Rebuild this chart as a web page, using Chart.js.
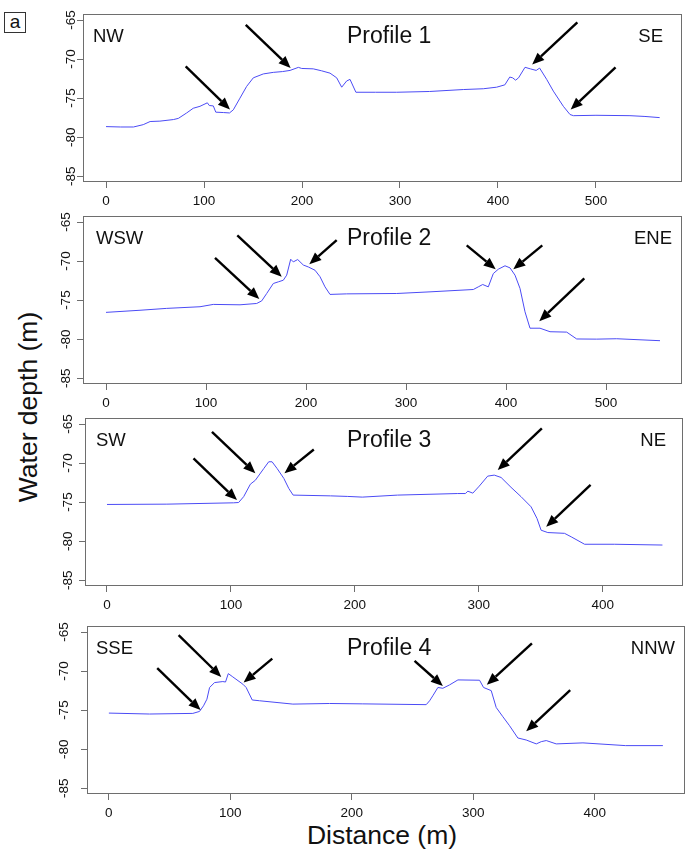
<!DOCTYPE html>
<html lang="en">
<head>
<meta charset="UTF-8">
<title>Bathymetric profiles</title>
<script src="https://cdn.jsdelivr.net/npm/chart.js@4.4.1/dist/chart.umd.min.js"></script>
<style>
body { margin: 0; background: #fff; font-family: "Liberation Sans", Arial, sans-serif; }
#page { position: relative; width: 686px; height: 851px; overflow: hidden; }
#page canvas { position: absolute; left: 0; }
.tag { position: absolute; left: 4px; top: 12px; width: 20px; height: 19px; border: 1px solid #333;
       font-size: 19px; line-height: 17px; text-align: center; color: #111; }
#ylab { position: absolute; left: 27.5px; top: 406.7px; font-size: 26.5px; line-height: 26.5px;
        white-space: nowrap; color: #111; transform: translate(-50%, -50%) rotate(-90deg); }
#xlab { position: absolute; left: 382px; top: 822px; font-size: 26.5px; line-height: 26.5px;
        white-space: nowrap; color: #111; transform: translateX(-50%); }
</style>
</head>
<body>
<div id="page">
  <div class="tag">a</div>
  <div id="ylab">Water depth (m)</div>
  <div id="xlab">Distance (m)</div>
</div>
<script>
// distance along profile (m) and water depth (m)
var dist1 = [0, 15, 28, 38, 45, 55, 68.7, 73.8, 82.3, 89, 95.9, 103.4, 105.4, 109.5, 112, 120, 126, 129.9, 136.7, 143.5,
             150.3, 160.5, 170.7, 180, 187.8, 196.3, 199.7, 211.5, 220, 228.6, 235.4, 240.5, 245.6, 249, 255, 275, 296.6,
             330, 364.6, 385, 398.6, 407, 412, 415, 418, 421, 427.6, 433, 439, 442.5, 449.7, 456.5, 466.7, 473.5, 477,
             500, 534.7, 550, 565];
var depth1 = [-78.65, -78.7, -78.7, -78.4, -78.0, -77.95, -77.75, -77.6, -76.9, -76.3, -76.05, -75.6, -75.95, -76.0, -76.8,
              -76.85, -76.9, -76.5, -75.0, -73.5, -72.4, -71.9, -71.7, -71.6, -71.45, -71.06, -71.2, -71.25, -71.5, -71.8,
              -72.4, -73.6, -72.8, -72.6, -74.25, -74.25, -74.25, -74.15, -73.9, -73.8, -73.6, -73.3, -72.3, -72.4, -72.7,
              -72.4, -71.05, -71.25, -71.45, -71.15, -72.6, -74.1, -76.05, -77.1, -77.25, -77.2, -77.25, -77.35, -77.5];

var dist2 = [0, 34, 60.7, 94, 107.3, 134, 150.7, 155.7, 160.7, 167.3, 172.3, 177.3, 180.7, 184.7, 187.3, 191.7, 197.3,
             202.3, 209, 214, 219, 224, 240.7, 290.7, 324, 367.3, 372.3, 376.7, 382.3, 387.3, 392.3, 399, 404, 409, 414,
             419, 424, 434, 444, 460.7, 470.7, 490.7, 510.7, 554];
var depth2 = [-76.57, -76.3, -76.06, -75.85, -75.55, -75.6, -75.43, -75.1, -74.15, -72.87, -72.66, -72.45, -71.8, -69.76,
              -70.1, -69.8, -70.5, -70.75, -71.17, -72.0, -73.3, -74.27, -74.2, -74.15, -73.94, -73.64, -73.3, -73.0,
              -73.3, -71.6, -71.04, -70.6, -70.87, -71.8, -73.5, -76.5, -78.6, -78.6, -79.05, -79.1, -79.98, -80.0,
              -79.95, -80.2];

var dist3 = [0, 48.3, 102.2, 106.2, 110.3, 115.7, 119.7, 126.5, 130.5, 133.2, 137.3, 142.7, 146.7, 150.2, 180.4, 193.9,
             206, 234.4, 283, 289.2, 291.2, 295.2, 300.4, 307.2, 312.5, 318, 326, 334.1, 342.2, 347, 350.3, 355.7, 369.2,
             374.6, 385.4, 409.7, 448.2];
var depth3 = [-75.3, -75.26, -75.09, -75.05, -74.3, -72.7, -72.2, -70.7, -69.83, -69.83, -70.7, -71.96, -73.25, -74.1,
              -74.2, -74.27, -74.36, -74.1, -73.9, -73.9, -73.6, -73.85, -72.95, -71.67, -71.54, -71.84, -73.1, -74.3,
              -75.6, -77.1, -78.6, -78.9, -79.0, -79.45, -80.4, -80.4, -80.5];

var dist4 = [0, 33.5, 69.1, 74.6, 77.9, 80.7, 82.9, 87, 93.8, 96, 98.3, 102, 110.3, 113, 118, 124, 151.4, 181.6, 209,
             261.2, 264, 266.6, 270.8, 274.9, 280.4, 287.3, 305.1, 308.4, 314.7, 318.8, 324.3, 329.8, 336.6, 343.5, 351.8,
             355.9, 360, 368.2, 390.2, 425.3, 456];
var depth4 = [-75.38, -75.5, -75.42, -75.17, -74.45, -73.6, -72.1, -71.47, -71.34, -71.4, -70.32, -70.74, -71.68, -72.1,
              -73.7, -73.8, -74.23, -74.15, -74.2, -74.3, -73.8, -73.17, -72.1, -72.2, -71.77, -71.13, -71.17, -72.1,
              -72.5, -74.66, -75.85, -77.0, -78.57, -78.83, -79.33, -79.04, -78.9, -79.33, -79.2, -79.55, -79.55];

// arrows: [tail distance, tail depth, head distance, head depth]
var arrows1 = [[81.3, -70.93, 126.5, -76.45], [142.6, -65.6, 188.4, -71.14],
               [481, -65.3, 434.9, -70.7], [520, -71.06, 474.2, -76.47]];
var arrows2 = [[109, -69.6, 153.3, -74.87], [131.3, -66.7, 175.7, -72.0], [230.7, -67.3, 203.3, -70.4],
               [360.7, -67.98, 389.7, -71.04], [436.3, -67.98, 407.3, -71.04], [478.3, -72.2, 433.3, -77.7]];
var arrows3 = [[69.8, -69.4, 104.9, -74.74], [84.7, -66.0, 119.7, -71.3], [166.9, -68.25, 143.2, -71.3],
               [350.9, -65.55, 315.3, -70.9], [390.2, -72.8, 354.4, -78.17]];
var arrows4 = [[39.8, -69.63, 75.5, -75.0], [57.4, -65.4, 92.5, -70.74], [134.5, -68.4, 110.9, -71.47],
               [251.6, -68.7, 274.9, -71.9], [348.2, -66.44, 311.1, -71.76], [379.7, -72.44, 343.5, -77.72]];

var xTicks1 = [0, 100, 200, 300, 400, 500];
var xTicks2 = [0, 100, 200, 300, 400, 500];
var xTicks3 = [0, 100, 200, 300, 400];
var xTicks4 = [0, 100, 200, 300, 400];
var depthTicks = [-85, -80, -75, -70, -65];

var profileNames = ["Profile 1", "Profile 2", "Profile 3", "Profile 4"];
var leftEnds = ["NW", "WSW", "SW", "SSE"];
var rightEnds = ["SE", "ENE", "NE", "NNW"];

var FONT = '"Liberation Sans", Arial, sans-serif';
var PAD_TOP = 12;
var X_AXIS_H = 30;

// frame, rotated depth labels, arrows and panel captions
var decor = {
    id: 'decor',
    afterDraw: function (chart, args, o) {
        var ctx = chart.ctx, a = chart.chartArea;
        var xs = chart.scales.x, ys = chart.scales.y;
        ctx.save();
        ctx.strokeStyle = '#6e6e6e';
        ctx.lineWidth = 1;
        ctx.strokeRect(Math.round(a.left) + 0.5, Math.round(a.top) + 0.5,
                       Math.round(a.right - a.left) - 1, Math.round(a.bottom - a.top) - 1);

        ctx.fillStyle = '#111';
        ctx.font = '13.5px ' + FONT;
        ctx.textAlign = 'center';
        ctx.textBaseline = 'middle';
        depthTicks.forEach(function (v) {
            ctx.save();
            ctx.translate(o.yLabelX, ys.getPixelForValue(v));
            ctx.rotate(-Math.PI / 2);
            ctx.fillText(String(v), 0, 0);
            ctx.restore();
        });

        ctx.fillStyle = '#000';
        ctx.strokeStyle = '#000';
        ctx.lineWidth = 2.4;
        o.arrows.forEach(function (ar) {
            var x0 = xs.getPixelForValue(ar[0]), y0 = ys.getPixelForValue(ar[1]);
            var x1 = xs.getPixelForValue(ar[2]), y1 = ys.getPixelForValue(ar[3]);
            var ang = Math.atan2(y1 - y0, x1 - x0);
            var hl = 12, hw = 5;
            var bx = x1 - hl * Math.cos(ang), by = y1 - hl * Math.sin(ang);
            ctx.beginPath();
            ctx.moveTo(x0, y0);
            ctx.lineTo(bx, by);
            ctx.stroke();
            ctx.beginPath();
            ctx.moveTo(x1, y1);
            ctx.lineTo(bx - hw * Math.sin(ang), by + hw * Math.cos(ang));
            ctx.lineTo(bx + hw * Math.sin(ang), by - hw * Math.cos(ang));
            ctx.closePath();
            ctx.fill();
        });

        ctx.fillStyle = '#111';
        ctx.textBaseline = 'middle';
        var ty = a.top + 23;
        ctx.font = '18.5px ' + FONT;
        ctx.textAlign = 'left';
        ctx.fillText(o.leftEnd, o.leftX, ty);
        ctx.textAlign = 'right';
        ctx.fillText(o.rightEnd, o.rightX, ty);
        ctx.font = '23px ' + FONT;
        ctx.textAlign = 'left';
        ctx.fillText(o.name, 347, ty);
        ctx.restore();
    }
};

var panels = [
    { dist: dist1, depth: depth1, arrows: arrows1, xTicks: xTicks1, box: [83, 14, 682, 182],
      xMin: -23.5, xMax: 587.8, yLabelX: 71, leftX: 93, rightX: 663 },
    { dist: dist2, depth: depth2, arrows: arrows2, xTicks: xTicks2, box: [83, 216, 682, 384],
      xMin: -23, xMax: 576, yLabelX: 66, leftX: 96, rightX: 672 },
    { dist: dist3, depth: depth3, arrows: arrows3, xTicks: xTicks3, box: [85, 418, 683, 586],
      xMin: -17.75, xMax: 464.8, yLabelX: 68, leftX: 96, rightX: 666 },
    { dist: dist4, depth: depth4, arrows: arrows4, xTicks: xTicks4, box: [87, 626, 685, 794],
      xMin: -18, xMax: 474.2, yLabelX: 64, leftX: 96, rightX: 675 }
];

var page = document.getElementById('page');

panels.forEach(function (p, i) {
    var left = p.box[0], top = p.box[1], right = p.box[2], bottom = p.box[3];
    var h = bottom - top + PAD_TOP + X_AXIS_H;
    var cv = document.createElement('canvas');
    cv.width = 686;
    cv.height = h;
    cv.style.top = (top - PAD_TOP) + 'px';
    cv.style.width = '686px';
    cv.style.height = h + 'px';
    page.appendChild(cv);

    var pts = p.dist.map(function (d, k) { return { x: d, y: p.depth[k] }; });

    new Chart(cv.getContext('2d'), {
        type: 'line',
        data: {
            datasets: [{
                data: pts,
                borderColor: '#4b4bf5',
                borderWidth: 1,
                pointRadius: 0,
                tension: 0,
                fill: false
            }]
        },
        options: {
            responsive: false,
            animation: false,
            events: [],
            layout: { padding: { top: PAD_TOP, right: 686 - right, left: 0, bottom: 0 } },
            plugins: {
                legend: { display: false },
                tooltip: { enabled: false },
                decor: {
                    arrows: p.arrows, yLabelX: p.yLabelX, leftX: p.leftX, rightX: p.rightX,
                    leftEnd: leftEnds[i], rightEnd: rightEnds[i], name: profileNames[i]
                }
            },
            scales: {
                x: {
                    type: 'linear',
                    min: p.xMin,
                    max: p.xMax,
                    afterBuildTicks: function (s) { s.ticks = p.xTicks.map(function (v) { return { value: v }; }); },
                    afterFit: function (s) { s.height = X_AXIS_H; },
                    ticks: { font: { size: 13.5, family: FONT }, color: '#111', padding: 5, maxRotation: 0, autoSkip: false },
                    grid: { drawOnChartArea: false, drawTicks: true, tickLength: 6, color: '#6e6e6e' },
                    border: { display: false }
                },
                y: {
                    type: 'linear',
                    min: -85.75,
                    max: -64.22,
                    afterBuildTicks: function (s) { s.ticks = depthTicks.map(function (v) { return { value: v }; }); },
                    afterFit: function (s) { s.width = left; },
                    ticks: { display: false },
                    grid: { drawOnChartArea: false, drawTicks: true, tickLength: 6, color: '#6e6e6e' },
                    border: { display: false }
                }
            }
        },
        plugins: [decor]
    });
});
</script>
</body>
</html>
